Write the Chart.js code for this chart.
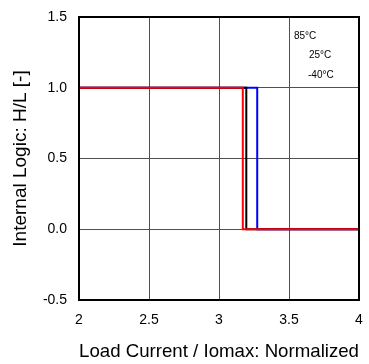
<!DOCTYPE html>
<html>
<head>
<meta charset="utf-8">
<script src="https://cdn.jsdelivr.net/npm/chart.js@4/dist/chart.umd.min.js"></script>
<style>
  html, body { margin: 0; padding: 0; background: #ffffff; overflow: hidden; }
  #wrap { width: 369px; height: 364px; position: relative; }
  canvas { display: block; }
</style>
</head>
<body>
<div id="wrap"><canvas id="c"></canvas></div>
<script>
// ---- data ----
const xTickValues = [2, 2.5, 3, 3.5, 4];
const xTickLabels = ["2", "2.5", "3", "3.5", "4"];
const yTickValues = [-0.5, 0, 0.5, 1, 1.5];
const yTickLabels = ["-0.5", "0.0", "0.5", "1.0", "1.5"];

const x85 = [2, 3.17, 3.17, 4];
const y85 = [1, 1, 0, 0];
const x25 = [2, 3.195, 3.195, 4];
const y25 = [1, 1, 0, 0];
const xm40 = [2, 3.273, 3.273, 4];
const ym40 = [1, 1, 0, 0];

const legendLabels = ["85°C", "25°C", "-40°C"];

const xTitle = "Load Current / Iomax: Normalized";
const yTitle = "Internal Logic: H/L [-]";

function pts(xs, ys) { return xs.map((x, i) => ({ x: x, y: ys[i] })); }

const FONT = "'Liberation Sans', Arial, sans-serif";

const frame = {
  id: 'frame',
  afterDatasetsDraw(chart) {
    const { ctx, chartArea: a } = chart;
    ctx.save();
    ctx.strokeStyle = '#000';
    ctx.lineWidth = 2;
    ctx.strokeRect(a.left, a.top, a.right - a.left, a.bottom - a.top);
    ctx.restore();
  },
  afterDraw(chart) {
    const { ctx } = chart;
    ctx.save();
    ctx.fillStyle = '#000';
    ctx.font = "10px " + FONT;
    ctx.textAlign = 'left';
    ctx.textBaseline = 'alphabetic';
    ctx.fillText(legendLabels[0], 294, 38.5);
    ctx.fillText(legendLabels[1], 309, 58);
    ctx.fillText(legendLabels[2], 308, 77.5);
    ctx.restore();
  }
};

new Chart(document.getElementById('c'), {
  type: 'scatter',
  data: {
    datasets: [
      { label: legendLabels[0], data: pts(x85, y85), borderColor: '#ff0000', borderWidth: 2, showLine: true, pointRadius: 0, fill: false, tension: 0 },
      { label: legendLabels[1], data: pts(x25, y25), borderColor: '#000000', borderWidth: 2, showLine: true, pointRadius: 0, fill: false, tension: 0 },
      { label: legendLabels[2], data: pts(xm40, ym40), borderColor: '#0000ff', borderWidth: 2, showLine: true, pointRadius: 0, fill: false, tension: 0 }
    ]
  },
  options: {
    responsive: true,
    maintainAspectRatio: false,
    animation: false,
    layout: { padding: { top: 17, right: 10, left: 0, bottom: 0 } },
    plugins: { legend: { display: false }, tooltip: { enabled: false } },
    scales: {
      x: {
        type: 'linear',
        min: 2, max: 4,
        afterBuildTicks(s) { s.ticks = xTickValues.map(v => ({ value: v })); },
        afterFit(s) { s.height = 64; s.paddingLeft = 0; s.paddingRight = 0; },
        grid: { color: '#505050', lineWidth: 1, drawTicks: false },
        border: { display: false },
        ticks: {
          padding: 12,
          color: '#000',
          font: { family: FONT, size: 14 },
          maxRotation: 0,
          callback(v) { const i = xTickValues.indexOf(v); return i >= 0 ? xTickLabels[i] : ''; }
        },
        title: {
          display: true, text: xTitle, color: '#000',
          font: { family: FONT, size: 19 },
          padding: { top: 0, bottom: 1 }
        }
      },
      y: {
        type: 'linear',
        min: -0.5, max: 1.5,
        afterBuildTicks(s) { s.ticks = yTickValues.map(v => ({ value: v })); },
        afterFit(s) { s.width = 79; s.paddingTop = 0; s.paddingBottom = 0; },
        grid: { color: '#505050', lineWidth: 1, drawTicks: false },
        border: { display: false },
        ticks: {
          padding: 12,
          color: '#000',
          font: { family: FONT, size: 14 },
          callback(v) { const i = yTickValues.indexOf(v); return i >= 0 ? yTickLabels[i] : ''; }
        },
        title: {
          display: true, text: yTitle, color: '#000',
          font: { family: FONT, size: 19 },
          padding: { top: 9, bottom: 0 }
        }
      }
    }
  },
  plugins: [frame]
});
</script>
</body>
</html>
